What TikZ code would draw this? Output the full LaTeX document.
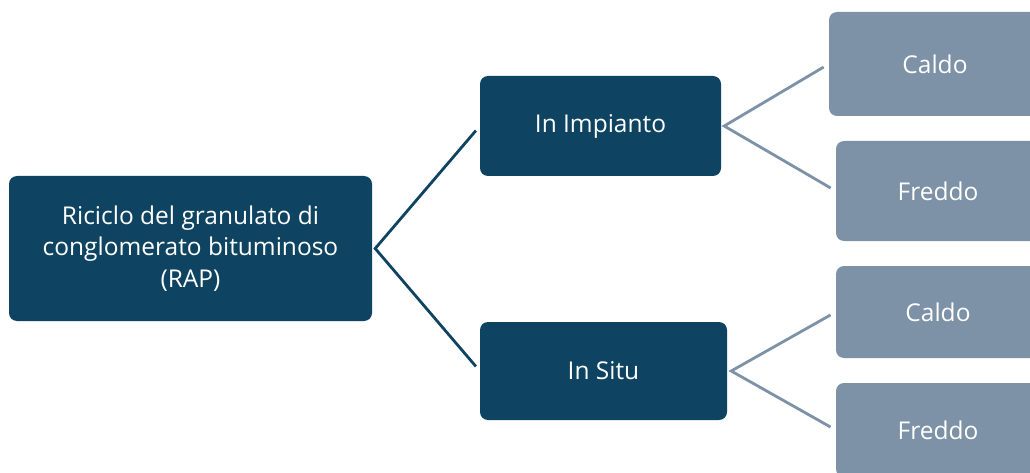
\documentclass[tikz,border=0pt]{standalone}
\usepackage{fontspec}
\setmainfont{Open Sans}
\usetikzlibrary{calc}
\definecolor{scuro}{HTML}{0E4461}
\definecolor{chiaro}{HTML}{7D92A7}

\begin{document}
\begin{tikzpicture}[x=1pt, y=-1pt,
  box/.style={rounded corners=8pt, inner sep=0pt, text=white,
    font=\fontsize{24.5}{31.5}\selectfont, align=center},
  rootbox/.style={box, fill=scuro},
  leafbox/.style={box, fill=chiaro},
  link/.style={line width=2.8pt, shorten <=6pt, shorten >=6pt}]
  \clip (0,0) rectangle (1030,473);
  \fill[white] (0,0) rectangle (1030,473);
  % radice
  \node[rootbox, minimum width=363pt, minimum height=145pt] (rap) at (190.5,248.5)
    {Riciclo del granulato di\\conglomerato bituminoso\\(RAP)};
  % secondo livello
  \node[rootbox, minimum width=241pt, minimum height=100pt] (imp) at (600.5,126) {In Impianto};
  \node[rootbox, minimum width=247pt, minimum height=98pt] (situ) at (603.5,371) {In Situ};
  % foglie
  \node[leafbox, minimum width=212pt, minimum height=104pt] (caldoA) at (935,64) {Caldo};
  \node[leafbox, minimum width=204pt, minimum height=100pt] (freddoA) at (938,191) {Freddo};
  \node[leafbox, minimum width=204pt, minimum height=92pt] (caldoB) at (938,312) {Caldo};
  \node[leafbox, minimum width=204pt, minimum height=94pt] (freddoB) at (938,430) {Freddo};
  % collegamenti
  \coordinate (jr) at ($(rap.east)+(3,0)$);
  \coordinate (ji) at ($(imp.east)+(3,0)$);
  \coordinate (js) at ($(situ.east)+(4,0)$);
  \draw[link, scuro] (imp.west) -- (jr) -- (situ.west);
  \draw[link, chiaro] (caldoA.west) -- (ji) -- (freddoA.west);
  \draw[link, chiaro] (caldoB.west) -- (js) -- (freddoB.west);
\end{tikzpicture}
\end{document}
